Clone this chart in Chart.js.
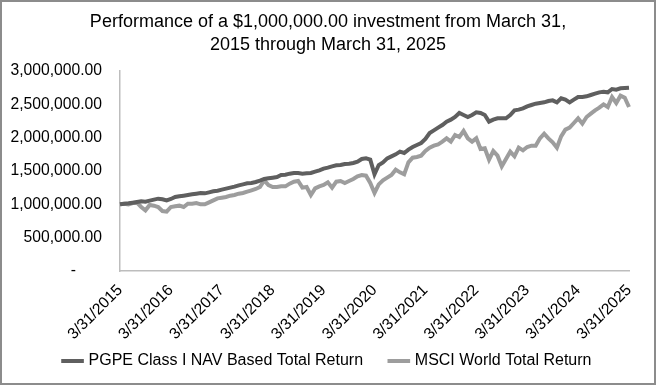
<!DOCTYPE html>
<html>
<head>
<meta charset="utf-8">
<script src="https://cdn.jsdelivr.net/npm/chart.js@4"></script>
<style>
  html, body { margin: 0; padding: 0; background: #fff; }
  #wrap { width: 656px; height: 385px; box-sizing: border-box; border: 2px solid #8c8c8c; }
  canvas { display: block; }
</style>
</head>
<body>
<div id="wrap"><canvas id="chart" width="652" height="381"></canvas></div>
<script>
const FONT = "'Liberation Sans', Arial, sans-serif";

const startYear = 2015;
const yTicks = [0, 500000, 1000000, 1500000, 2000000, 2500000, 3000000];
const seriesNames = ["PGPE Class I NAV Based Total Return", "MSCI World Total Return"];

// monthly values, 3/31/2015 .. 3/31/2025
const pgpe = [
  1000000, 1010000, 1015000, 1025000, 1035000, 1045000, 1040000, 1055000, 1070000, 1085000, 1075000, 1060000,
  1080000, 1110000, 1120000, 1130000, 1140000, 1150000, 1160000, 1170000, 1165000, 1180000, 1195000, 1205000,
  1220000, 1235000, 1250000, 1265000, 1285000, 1300000, 1315000, 1320000, 1335000, 1355000, 1380000, 1390000,
  1400000, 1410000, 1440000, 1445000, 1460000, 1470000, 1470000, 1460000, 1465000, 1470000, 1490000, 1510000,
  1535000, 1550000, 1570000, 1585000, 1590000, 1605000, 1610000, 1620000, 1640000, 1680000, 1690000, 1670000,
  1450000, 1590000, 1630000, 1690000, 1720000, 1750000, 1790000, 1770000, 1820000, 1860000, 1890000, 1920000,
  1980000, 2070000, 2110000, 2150000, 2190000, 2240000, 2270000, 2310000, 2370000, 2340000, 2310000, 2340000,
  2380000, 2370000, 2340000, 2240000, 2270000, 2290000, 2290000, 2290000, 2340000, 2410000, 2420000, 2440000,
  2470000, 2490000, 2510000, 2520000, 2530000, 2550000, 2560000, 2530000, 2590000, 2570000, 2530000, 2570000,
  2610000, 2610000, 2620000, 2640000, 2660000, 2680000, 2690000, 2680000, 2730000, 2720000, 2740000, 2745000,
  2750000
];

const msci = [
  1000000, 1010000, 1000000, 1020000, 1025000, 960000, 910000, 990000, 980000, 960000, 900000, 890000,
  960000, 970000, 980000, 960000, 1010000, 1010000, 1020000, 1000000, 1000000, 1030000, 1060000, 1090000,
  1100000, 1110000, 1130000, 1140000, 1160000, 1170000, 1190000, 1210000, 1230000, 1260000, 1360000, 1290000,
  1260000, 1260000, 1270000, 1270000, 1310000, 1340000, 1350000, 1250000, 1260000, 1140000, 1240000, 1270000,
  1290000, 1330000, 1250000, 1340000, 1350000, 1320000, 1350000, 1380000, 1420000, 1440000, 1430000, 1320000,
  1170000, 1300000, 1360000, 1400000, 1440000, 1520000, 1480000, 1450000, 1630000, 1700000, 1710000, 1730000,
  1800000, 1850000, 1880000, 1900000, 1940000, 1990000, 1940000, 2040000, 2010000, 2100000, 1990000, 1940000,
  1990000, 1830000, 1840000, 1670000, 1800000, 1730000, 1570000, 1680000, 1790000, 1720000, 1850000, 1810000,
  1860000, 1880000, 1880000, 1990000, 2060000, 1990000, 1930000, 1850000, 2020000, 2120000, 2150000, 2220000,
  2290000, 2210000, 2310000, 2360000, 2410000, 2450000, 2500000, 2460000, 2610000, 2520000, 2630000, 2600000,
  2460000
];

const labels = pgpe.map((_, i) => {
  const m = (2 + i) % 12;
  const y = startYear + Math.floor((2 + i) / 12);
  let d = [31, 28, 31, 30, 31, 30, 31, 31, 30, 31, 30, 31][m];
  if (m === 1 && y % 4 === 0) d = 29;
  return `${m + 1}/${d}/${y}`;
});

function fmtTick(value) {
  if (value === 0) return "-" + "\u00a0".repeat(6);
  return value.toLocaleString("en-US", { minimumFractionDigits: 2, maximumFractionDigits: 2 });
}

new Chart(document.getElementById("chart"), {
  type: "line",
  data: {
    labels,
    datasets: [
      { label: seriesNames[0], data: pgpe, borderColor: "#5f5f5f", backgroundColor: "#5f5f5f", borderWidth: 4, pointRadius: 0, tension: 0 },
      { label: seriesNames[1], data: msci, borderColor: "#9d9d9d", backgroundColor: "#9d9d9d", borderWidth: 4, pointRadius: 0, tension: 0 },
    ],
  },
  options: {
    responsive: false,
    animation: false,
    layout: { padding: { left: 0, right: 0, top: 6, bottom: 4 } },
    plugins: {
      title: {
        display: true,
        text: ["Performance of a $1,000,000.00 investment from March 31,", "2015 through March 31, 2025"],
        color: "#000",
        font: { family: FONT, size: 18, weight: "normal", lineHeight: 1.25 },
        padding: { top: 3, bottom: 15 },
      },
      legend: {
        position: "bottom",
        labels: {
          usePointStyle: true,
          pointStyle: "line",
          boxWidth: 31,
          padding: 10,
          color: "#000",
          font: { family: FONT, size: 16 },
          // widen the gap between the two entries
          generateLabels: (chart) => Chart.defaults.plugins.legend.labels.generateLabels(chart)
            .map((item, i) => ({ ...item, text: i === 0 ? item.text + "\u00a0".repeat(4) : item.text })),
        },
      },
      tooltip: { enabled: false },
    },
    scales: {
      x: {
        grid: { display: false, drawTicks: false },
        border: { display: true, color: "#bdbdbd", width: 1.5 },
        ticks: {
          autoSkip: false,
          maxRotation: 45,
          minRotation: 45,
          padding: 10,
          color: "#000",
          font: { family: FONT, size: 15.7 },
          callback: (v, i) => (i % 12 === 0 ? labels[i] : ""),
        },
        afterFit: (scale) => {
          scale.height = 72;
          scale.paddingRight = 25;
        },
      },
      y: {
        min: 0,
        max: 3000000,
        afterBuildTicks: (scale) => { scale.ticks = yTicks.map((v) => ({ value: v })); },
        grid: { display: false, drawTicks: false },
        border: { display: true, color: "#bdbdbd", width: 1.5 },
        ticks: {
          padding: 18,
          color: "#000",
          font: { family: FONT, size: 15.7 },
          callback: fmtTick,
        },
        afterFit: (scale) => { scale.width = 118; },
      },
    },
  },
});
</script>
</body>
</html>
